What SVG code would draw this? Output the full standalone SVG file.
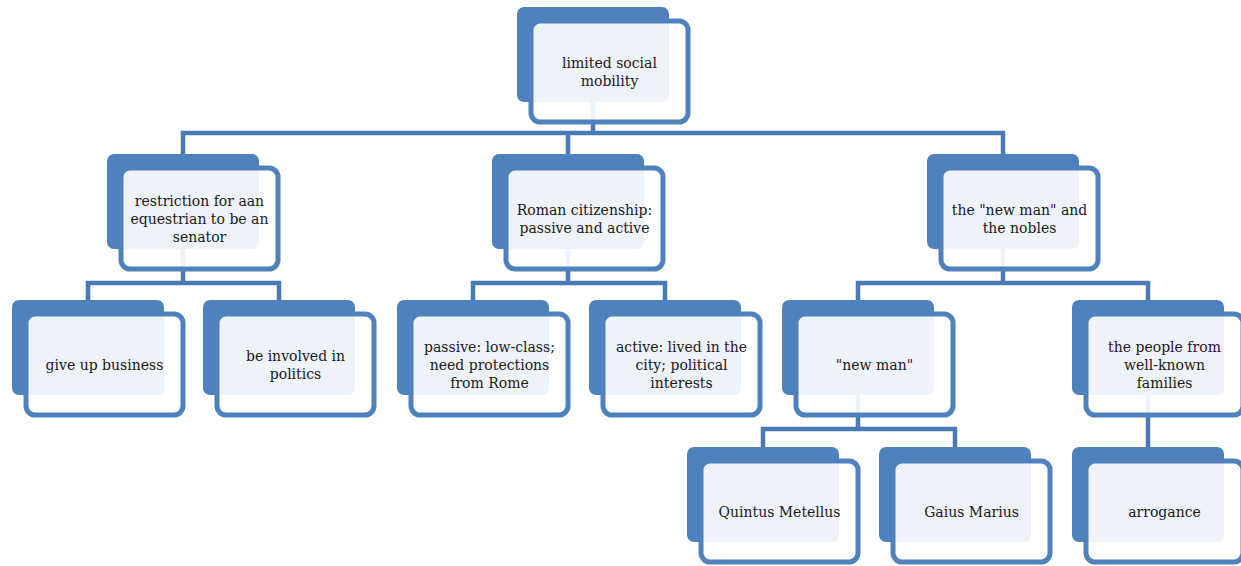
<svg xmlns="http://www.w3.org/2000/svg" width="1241" height="566" viewBox="0 0 1241 566">
<style>
.back{fill:#4F81BD}
.front{fill:#ffffff;fill-opacity:0.9;stroke:#4F81BD;stroke-width:5}
.con{fill:none;stroke:#4A7AB5;stroke-width:4.5;stroke-linejoin:miter}
text{font-family:"DejaVu Serif","Liberation Serif",serif;font-size:14px;fill:#1a1a1a;text-anchor:middle}
</style>
<defs>
<g id="box">
<rect class="back" x="0" y="0" width="152" height="95" rx="7"/>
<rect class="front" x="14" y="14" width="157" height="101" rx="9"/>
</g>
</defs>
<rect width="1241" height="566" fill="#ffffff"/>
<g id="connectors">
<path class="con" d="M593,102 V133 M183,154 V133 H1003 V154 M568,133 V154"/>
<path class="con" d="M183,248 V283 M88,300 V283 H279 V300"/>
<path class="con" d="M568,248 V283 M473,300 V283 H665 V300"/>
<path class="con" d="M1003,248 V283 M858,300 V283 H1148 V300"/>
<path class="con" d="M858,394 V429 M763,447 V429 H955 V447"/>
<path class="con" d="M1148,394 V447"/>
</g>
<g id="n-top" transform="translate(517,7)"><use href="#box"/><text x="92.5" y="60.5">limited social</text><text x="92.5" y="78.5">mobility</text></g>
<g id="n-restriction" transform="translate(107,154)"><use href="#box"/><text x="92.5" y="51.5">restriction for aan</text><text x="92.5" y="69.5">equestrian to be an</text><text x="92.5" y="87.5">senator</text></g>
<g id="n-citizenship" transform="translate(492,154)"><use href="#box"/><text x="92.5" y="60.5">Roman citizenship:</text><text x="92.5" y="78.5">passive and active</text></g>
<g id="n-newman-nobles" transform="translate(927,154)"><use href="#box"/><text x="92.5" y="60.5">the "new man" and</text><text x="92.5" y="78.5">the nobles</text></g>
<g id="n-business" transform="translate(12,300)"><use href="#box"/><text x="92.5" y="69.5">give up business</text></g>
<g id="n-politics" transform="translate(203,300)"><use href="#box"/><text x="92.5" y="60.5">be involved in</text><text x="92.5" y="78.5">politics</text></g>
<g id="n-passive" transform="translate(397,300)"><use href="#box"/><text x="92.5" y="51.5">passive: low-class;</text><text x="92.5" y="69.5">need protections</text><text x="92.5" y="87.5">from Rome</text></g>
<g id="n-active" transform="translate(589,300)"><use href="#box"/><text x="92.5" y="51.5">active: lived in the</text><text x="92.5" y="69.5">city; political</text><text x="92.5" y="87.5">interests</text></g>
<g id="n-newman" transform="translate(782,300)"><use href="#box"/><text x="92.5" y="69.5">"new man"</text></g>
<g id="n-people" transform="translate(1072,300)"><use href="#box"/><text x="92.5" y="51.5">the people from</text><text x="92.5" y="69.5">well-known</text><text x="92.5" y="87.5">families</text></g>
<g id="n-quintus" transform="translate(687,447)"><use href="#box"/><text x="92.5" y="69.5">Quintus Metellus</text></g>
<g id="n-gaius" transform="translate(879,447)"><use href="#box"/><text x="92.5" y="69.5">Gaius Marius</text></g>
<g id="n-arrogance" transform="translate(1072,447)"><use href="#box"/><text x="92.5" y="69.5">arrogance</text></g>
</svg>
